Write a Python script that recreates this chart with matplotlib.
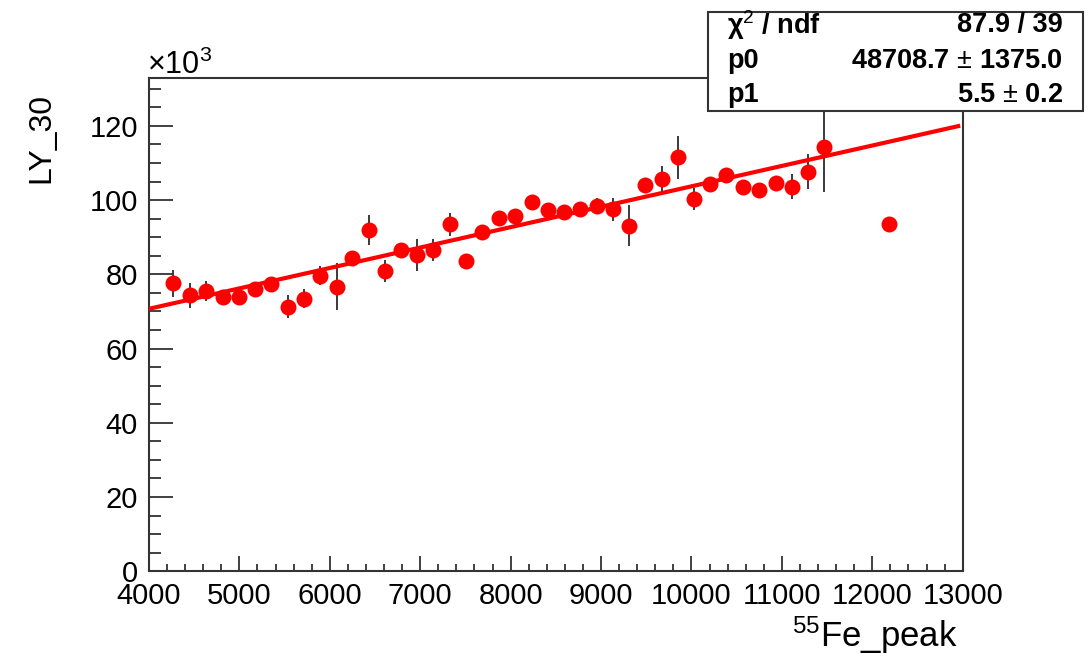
import matplotlib
matplotlib.use("Agg")
import matplotlib.pyplot as plt
from matplotlib.patches import Rectangle
from matplotlib.ticker import MultipleLocator
import numpy as np

plt.rcParams['font.family'] = ['Liberation Sans', 'DejaVu Sans']
plt.rcParams['mathtext.fontset'] = 'custom'
plt.rcParams['mathtext.rm'] = 'Liberation Sans'
plt.rcParams['mathtext.it'] = 'Liberation Sans:italic'
plt.rcParams['mathtext.bf'] = 'Liberation Sans:bold'

# 55Fe peak position and light yield (LY_30, in units of 10^3)
fe_peak = [4269, 4453, 4634, 4815, 4992, 5172, 5353, 5534, 5714, 5891,
           6076, 6249, 6433, 6610, 6787, 6967, 7144, 7329, 7506, 7686,
           7871, 8048, 8236, 8416, 8590, 8767, 8952, 9129, 9309, 9486,
           9671, 9848, 10028, 10205, 10382, 10566, 10747, 10931, 11108, 11292,
           11469, 12188]
ly30_k = [77.6, 74.3, 75.6, 74.0, 74.0, 76.0, 77.4, 71.3, 73.4, 79.6,
          76.7, 84.3, 92.0, 80.9, 86.6, 85.2, 86.6, 93.5, 83.7, 91.3,
          95.1, 95.7, 99.5, 97.4, 96.9, 97.5, 98.4, 97.5, 93.1, 104.1,
          105.6, 111.5, 100.2, 104.3, 106.8, 103.6, 102.7, 104.6, 103.6, 107.7,
          114.4, 93.5]
ly30_err_k = [3.6, 3.4, 2.7, 1.5, 1.5, 1.5, 1.5, 3.1, 2.6, 2.6,
              6.4, 1.5, 4.0, 3.0, 1.5, 4.3, 2.9, 3.1, 1.5, 1.5,
              1.5, 1.5, 1.5, 1.5, 1.5, 1.5, 2.2, 3.0, 5.5, 1.5,
              3.5, 5.7, 3.0, 1.5, 1.5, 1.5, 1.5, 1.5, 3.4, 4.7,
              12.1, 0.0]

# Linear fit result: LY = p0 + p1 * peak
chi2, ndf = 87.9, 39
p0, p0_err = 48708.7, 1375.0
p1, p1_err = 5.5, 0.2
fit_range = (4000, 12950)

W, H = 1089, 663
fig = plt.figure(figsize=(W / 100, H / 100), dpi=100)
ax = fig.add_axes([149 / W, 1 - 571.2 / H, (962.7 - 149) / W, (571.2 - 78) / H])

ax.errorbar(fe_peak, ly30_k, yerr=ly30_err_k, fmt='none', ecolor='#3a3a3a',
            elinewidth=1.4, capsize=0, zorder=2)
ax.plot(fe_peak, ly30_k, 'o', color='#ff0000', markersize=11.5,
        markeredgewidth=0, zorder=3)

xf = np.linspace(fit_range[0], fit_range[1], 200)
ax.plot(xf, (p0 + p1 * xf) / 1000.0, color='#ff0000', lw=3.0, zorder=4)

ax.set_xlim(4000, 13000)
ax.set_ylim(0, 132.9)

ax.xaxis.set_major_locator(MultipleLocator(1000))
ax.xaxis.set_minor_locator(MultipleLocator(200))
ax.yaxis.set_major_locator(MultipleLocator(20))
ax.yaxis.set_minor_locator(MultipleLocator(5))

ax.tick_params(axis='x', which='major', direction='in', length=10.8, width=1.3,
               color='#333333', labelsize=21, pad=8)
ax.tick_params(axis='x', which='minor', direction='in', length=5.4, width=1.3,
               color='#333333')
ax.tick_params(axis='y', which='major', direction='in', length=17.3, width=1.3,
               color='#333333', labelsize=21, pad=8)
ax.tick_params(axis='y', which='minor', direction='in', length=8.6, width=1.3,
               color='#333333')
for s in ax.spines.values():
    s.set_linewidth(1.5)
    s.set_color('#333333')

# axis titles and exponent
fig.text(41 / W, 1 - 93 / H, 'LY_30', rotation=90, ha='center', va='top',
         fontsize=23)
fig.text(958 / W, 1 - 647 / H, r'$^{55}$Fe_peak', ha='right', va='baseline',
         fontsize=25)
fig.text(147 / W, 1 - 74 / H, r'$\times$10$^{3}$', ha='left', va='baseline',
         fontsize=22)

# fit statistics box
bx0, by0, bx1, by1 = 707.5, 12.3, 1082.7, 111.0
fig.add_artist(Rectangle((bx0 / W, 1 - by1 / H), (bx1 - bx0) / W, (by1 - by0) / H,
                         transform=fig.transFigure, facecolor='white',
                         edgecolor='#333333', linewidth=1.5, zorder=5))
rows = [('χ$^{2}$ / ndf', f'{chi2:.1f} / {ndf}'),
        ('p0', f'{p0:.1f} $\\pm$ {p0_err:.1f}'),
        ('p1', f'{p1:.1f} $\\pm$ {p1_err:.1f}')]
row_y = [25, 61, 95]
for (lab, val), yy in zip(rows, row_y):
    fig.text(727 / W, 1 - yy / H, lab, ha='left', va='center', fontsize=19.5,
             fontweight='bold', zorder=6)
    fig.text(1063 / W, 1 - yy / H, val, ha='right', va='center', fontsize=19.5,
             fontweight='bold', zorder=6)

fig.savefig('out.png', dpi=100, facecolor='white')
